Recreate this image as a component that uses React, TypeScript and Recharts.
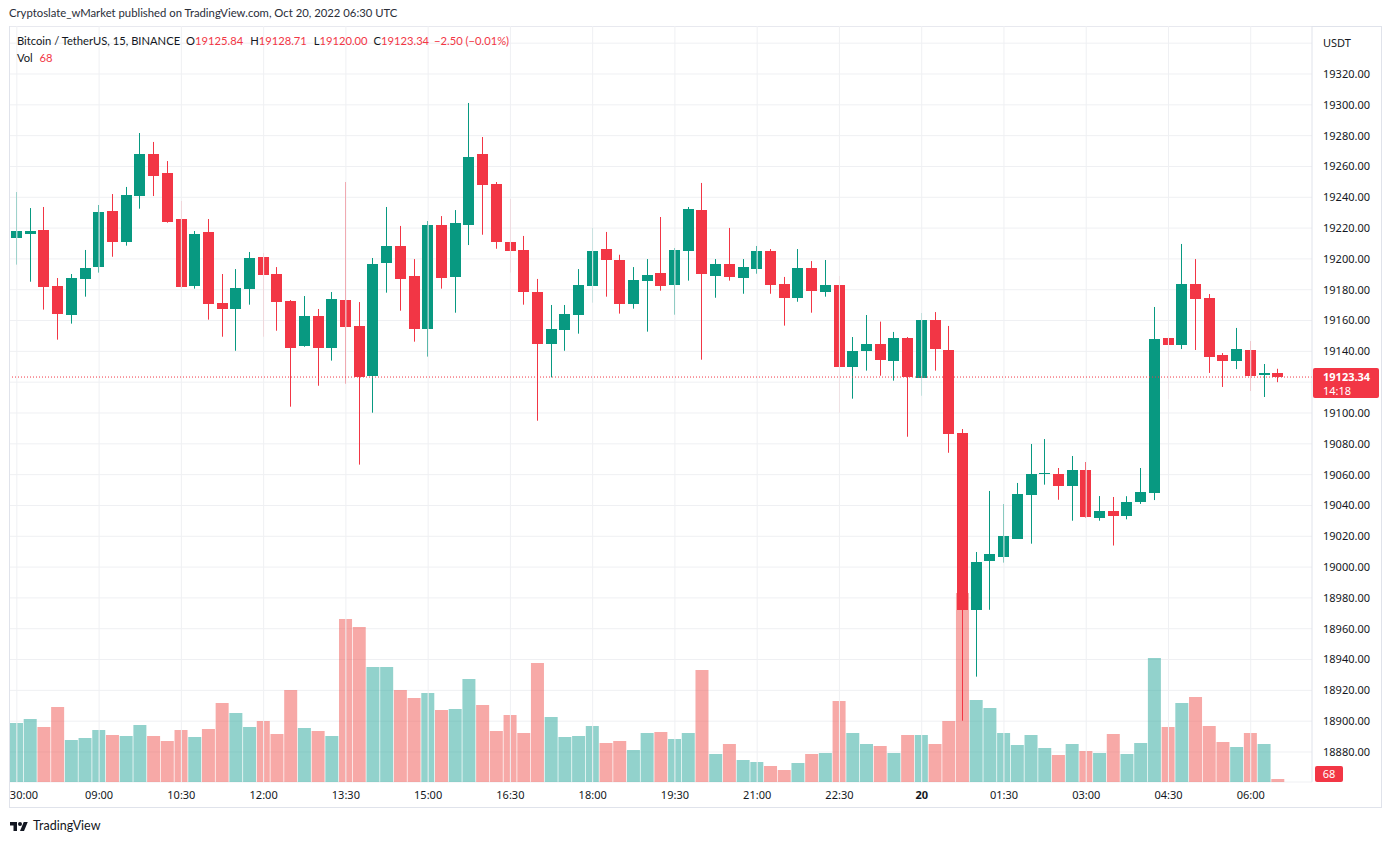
import { Bar, Cell, ComposedChart, CartesianGrid, ReferenceLine, XAxis, YAxis } from "recharts";

const GREEN = "#089981";
const RED = "#F23645";
const TEXT = "#131722";
const GRID = "#eff0f3";
const FONT = "'Noto Sans', 'Open Sans', sans-serif";
const HEAD_FONT = "Lato, 'Noto Sans', sans-serif";

// 15m candles, 07:30 Oct 19 -> 06:30 Oct 20 (UTC)
const times = [
  "07:30", "07:45",
  "08:00", "08:15", "08:30", "08:45", "09:00", "09:15", "09:30", "09:45",
  "10:00", "10:15", "10:30", "10:45", "11:00", "11:15", "11:30", "11:45",
  "12:00", "12:15", "12:30", "12:45", "13:00", "13:15", "13:30", "13:45",
  "14:00", "14:15", "14:30", "14:45", "15:00", "15:15", "15:30", "15:45",
  "16:00", "16:15", "16:30", "16:45", "17:00", "17:15", "17:30", "17:45",
  "18:00", "18:15", "18:30", "18:45", "19:00", "19:15", "19:30", "19:45",
  "20:00", "20:15", "20:30", "20:45", "21:00", "21:15", "21:30", "21:45",
  "22:00", "22:15", "22:30", "22:45", "23:00", "23:15", "23:30", "23:45",
  "00:00", "00:15", "00:30", "00:45", "01:00", "01:15", "01:30", "01:45",
  "02:00", "02:15", "02:30", "02:45", "03:00", "03:15", "03:30", "03:45",
  "04:00", "04:15", "04:30", "04:45", "05:00", "05:15", "05:30", "05:45",
  "06:00", "06:15", "06:30",
];

const opens = [
  19213.8, 19216.4, 19218.8, 19182.4, 19163.8, 19187.2, 19195.0, 19231.1, 19211.2, 19241.0,
  19268.1, 19255.8, 19225.9, 19182.6, 19217.5, 19171.4, 19167.7, 19180.7, 19201.3, 19190.2,
  19172.7, 19143.7, 19162.9, 19142.4, 19173.3, 19156.5, 19124.2, 19197.6, 19208.4, 19188.9,
  19154.7, 19222.0, 19188.5, 19222.2, 19268.1, 19248.6, 19210.9, 19205.8, 19178.5, 19145.0,
  19154.1, 19163.8, 19182.6, 19206.4, 19199.3, 19171.0, 19185.9, 19190.9, 19183.3, 19205.3,
  19231.7, 19189.1, 19196.7, 19187.8, 19193.7, 19205.1, 19183.7, 19174.8, 19194.1, 19178.7,
  19183.1, 19130.1, 19140.4, 19144.8, 19134.0, 19148.7, 19122.9, 19160.3, 19140.9, 19087.0,
  18972.3, 19003.9, 19006.8, 19018.4, 19047.0, 19060.4, 19060.4, 19052.8, 19063.0, 19032.1,
  19036.4, 19033.0, 19042.0, 19048.0, 19148.7, 19144.1, 19183.7, 19174.6, 19137.6, 19133.7,
  19140.9, 19124.7, 19125.84,
];

const highs = [
  19243.4, 19233.0, 19233.7, 19187.6, 19190.2, 19205.8, 19235.0, 19242.1, 19246.7, 19281.7,
  19275.9, 19263.5, 19237.6, 19218.1, 19225.9, 19190.2, 19193.4, 19204.5, 19203.8, 19194.7,
  19173.3, 19175.9, 19167.5, 19178.5, 19249.9, 19172.0, 19200.6, 19233.7, 19221.4, 19199.9,
  19224.6, 19227.8, 19231.7, 19301.2, 19279.1, 19249.9, 19238.9, 19214.9, 19187.0, 19170.1,
  19170.1, 19193.4, 19220.1, 19217.5, 19202.7, 19194.7, 19199.9, 19227.2, 19207.1, 19233.7,
  19249.3, 19199.9, 19220.1, 19199.9, 19208.4, 19206.4, 19188.3, 19206.4, 19198.6, 19199.3,
  19188.9, 19149.3, 19163.6, 19159.3, 19152.6, 19149.3, 19164.9, 19165.5, 19156.5, 19089.6,
  19009.8, 19049.4, 19040.9, 19054.6, 19079.9, 19083.1, 19064.3, 19072.1, 19068.2, 19046.1,
  19045.5, 19046.0, 19064.3, 19168.8, 19149.3, 19209.7, 19199.9, 19177.2, 19138.9, 19155.2,
  19146.7, 19131.8, 19128.71,
];

const lows = [
  19196.3, 19185.2, 19167.1, 19147.6, 19158.0, 19175.5, 19191.1, 19201.4, 19208.6, 19232.6,
  19240.8, 19223.5, 19180.7, 19180.7, 19160.6, 19149.5, 19140.4, 19170.3, 19149.5, 19153.4,
  19104.1, 19143.0, 19117.7, 19134.0, 19119.0, 19066.5, 19100.2, 19178.1, 19166.4, 19146.3,
  19136.6, 19180.7, 19165.1, 19209.0, 19215.7, 19206.6, 19191.1, 19170.3, 19095.0, 19123.1,
  19140.4, 19151.5, 19171.6, 19175.5, 19164.5, 19167.7, 19152.8, 19179.4, 19163.8, 19185.9,
  19134.6, 19174.8, 19185.9, 19177.4, 19190.4, 19177.4, 19156.7, 19172.2, 19165.1, 19175.5,
  19100.2, 19109.3, 19127.5, 19124.2, 19121.0, 19084.6, 19111.2, 19127.5, 19074.2, 18900.3,
  18928.9, 18972.3, 19002.9, 19018.4, 19015.2, 19053.5, 19043.7, 19030.1, 19032.1, 19030.1,
  19014.0, 19031.0, 19041.0, 19043.5, 19109.1, 19141.5, 19140.9, 19126.0, 19116.9, 19128.5,
  19114.3, 19110.4, 19120.0,
];

const closes = [
  19218.1, 19218.1, 19182.0, 19164.5, 19187.6, 19194.1, 19230.4, 19211.2, 19241.5, 19268.1,
  19254.0, 19224.2, 19182.0, 19216.2, 19171.0, 19167.7, 19181.1, 19200.6, 19189.8, 19172.3,
  19142.4, 19162.9, 19142.4, 19174.0, 19156.0, 19123.6, 19196.7, 19208.4, 19187.2, 19154.7,
  19222.0, 19187.8, 19223.3, 19266.1, 19248.2, 19211.2, 19205.3, 19178.7, 19145.0, 19154.5,
  19164.2, 19183.1, 19205.1, 19199.5, 19171.0, 19186.3, 19189.6, 19182.6, 19205.8, 19232.4,
  19190.4, 19196.7, 19188.5, 19194.7, 19205.1, 19183.3, 19174.8, 19194.1, 19179.4, 19183.1,
  19130.1, 19140.2, 19144.8, 19134.6, 19148.7, 19123.6, 19160.3, 19141.7, 19086.6, 18972.3,
  19003.3, 19008.5, 19020.2, 19047.4, 19060.4, 19060.8, 19052.8, 19063.0, 19032.7, 19036.4,
  19033.0, 19042.0, 19048.7, 19148.0, 19144.1, 19183.7, 19174.0, 19136.3, 19133.7, 19141.5,
  19124.0, 19126.0, 19123.34,
];

const volumes = [
  1339, 1430, 1249, 1703, 953, 999, 1180, 1067, 1044, 1294,
  1044, 931, 1180, 1022, 1203, 1793, 1566, 1249, 1385, 1090,
  2088, 1226, 1158, 1044, 3700, 3519, 2611, 2611, 2088, 1907,
  2020, 1634, 1657, 2338, 1748, 1158, 1521, 1112, 2701, 1476,
  1022, 1044, 1271, 885, 931, 726, 1112, 1135, 976, 1112,
  2542, 636, 863, 499, 454, 363, 272, 431, 636, 658,
  1839, 1112, 863, 817, 658, 1067, 1067, 863, 1385, 4290,
  1861, 1680, 1112, 840, 1067, 772, 613, 863, 704, 658,
  1090, 636, 885, 2815, 1249, 1793, 1930, 1271, 908, 795,
  1112, 863, 68,
];

const priceTicks = [
  18880, 18900, 18920, 18940, 18960, 18980, 19000, 19020, 19040, 19060, 19080, 19100,
  19120, 19140, 19160, 19180, 19200, 19220, 19240, 19260, 19280, 19300, 19320, 19340,
];
const timeTicks = ["07:30", "09:00", "10:30", "12:00", "13:30", "15:00", "16:30", "18:00", "19:30", "21:00", "22:30", "00:00", "01:30", "03:00", "04:30", "06:00"];
const timeTickLabels = ["30:00", "09:00", "10:30", "12:00", "13:30", "15:00", "16:30", "18:00", "19:30", "21:00", "22:30", "20", "01:30", "03:00", "04:30", "06:00"];
const countdown = "14:18";

const data = times.map((t, i) => ({
  t,
  o: opens[i],
  h: highs[i],
  l: lows[i],
  c: closes[i],
  range: [lows[i], highs[i]],
  v: volumes[i],
}));

const last = data[data.length - 1];

function Candle(props: any) {
  const { x, y, width, height, payload } = props;
  if (x == null || y == null) return null;
  const { o, h, l, c } = payload;
  const color = c >= o ? GREEN : RED;
  const top = Math.min(y, y + height);
  const span = Math.abs(height);
  const k = h === l ? 0 : span / (h - l);
  const bTop = top + (h - Math.max(o, c)) * k;
  const bBot = top + (h - Math.min(o, c)) * k;
  const cx = Math.floor(x + width / 2);
  return (
    <g>
      <rect x={cx} y={top} width={1} height={Math.max(span, 1)} fill={color} />
      <rect x={Math.round(x)} y={Math.round(bTop)} width={Math.round(width)} height={Math.max(1, Math.round(bBot - bTop))} fill={color} />
    </g>
  );
}

function TimeTick(props: any) {
  const { x, y, payload } = props;
  const idx = timeTicks.indexOf(payload.value);
  const first = idx === 0;
  return (
    <text x={first ? x - 7 : x} y={y + 13} dy="0.355em" textAnchor={first ? "start" : "middle"} fill={TEXT} fontSize={11} fontWeight={payload.value === "00:00" ? 700 : 400} fontFamily={FONT}>
      {timeTickLabels[idx]}
    </text>
  );
}

function PriceTick(props: any) {
  const { x, y, payload } = props;
  const v = payload.value as number;
  // the last-price tag covers the label nearest to it
  if (Math.abs(v - last.c) < 10) return null;
  return (
    <text x={x + 11} y={y} dy="0.355em" fill={TEXT} fontSize={11} fontFamily={FONT}>
      {v === 19340 ? "USDT" : v.toFixed(2)}
    </text>
  );
}

function PriceTag(props: any) {
  const vb = props.viewBox;
  const x = vb.x + vb.width;
  const y = vb.y;
  return (
    <g fontFamily={FONT}>
      <rect x={x + 1} y={y - 9} width={66} height={30} rx={2} fill={RED} />
      <text x={x + 11} y={y + 4} fill="#fff" fontSize={11} fontWeight={700}>{last.c.toFixed(2)}</text>
      <text x={x + 11} y={y + 18} fill="#fff" fontSize={11}>{countdown}</text>
    </g>
  );
}

function VolTag(props: any) {
  const vb = props.viewBox;
  const x = vb.x + vb.width;
  const y = vb.y;
  return (
    <g fontFamily={FONT}>
      <rect x={x + 3} y={y - 13} width={28} height={16} rx={2} fill={RED} />
      <text x={x + 17} y={y - 5} dy="0.355em" textAnchor="middle" fill="#fff" fontSize={11}>{last.v}</text>
    </g>
  );
}

function Logo() {
  return (
    <svg width={18} height={14} viewBox="0 0 36 28" style={{ position: "absolute", left: 10, top: 820 }}>
      <path d="M14 22H7V11H0V4h14v18z" fill="#131722" />
      <circle cx={20} cy={8} r={4} fill="#131722" />
      <path d="M28 22h-8l7.5-18h8L28 22z" fill="#131722" />
    </svg>
  );
}

const red = { color: RED };

export default function App() {
  return (
    <div style={{ position: "absolute", left: 0, top: 0, width: 1393, height: 845, background: "#fff", fontFamily: FONT, color: TEXT, overflow: "hidden" }}>
      <div style={{ position: "absolute", left: 9, top: 6, fontSize: 11.3, fontFamily: HEAD_FONT, color: "#2a2e39", whiteSpace: "nowrap" }}>
        Cryptoslate_wMarket published on TradingView.com, Oct 20, 2022 06:30 UTC
      </div>
      <div style={{ position: "absolute", left: 9, top: 26, width: 1373, height: 782, border: "1px solid #e0e3eb", boxSizing: "border-box" }} />
      <div style={{ position: "absolute", left: 10, top: 26 }}>
        <ComposedChart width={1373} height={783} data={data} margin={{ top: 0, right: 0, bottom: 0, left: 0 }}>
          <CartesianGrid vertical={false} stroke={GRID} />
          <XAxis dataKey="t" ticks={timeTicks} interval={0} padding={{ left: 0, right: 27 }} height={27} tickSize={0} tickMargin={0} axisLine={false} tickLine={false} tick={<TimeTick />} />
          <XAxis xAxisId="vol" dataKey="t" hide padding={{ left: 0, right: 27 }} />
          <YAxis orientation="right" width={71} domain={[18860.53, 19351.15]} allowDataOverflow ticks={priceTicks} interval={0} tickSize={0} tickMargin={0} axisLine={{ stroke: "#e0e3eb" }} tickLine={false} tick={<PriceTick />} />
          <YAxis yAxisId="vol" hide domain={[0, 17160]} allowDataOverflow />
          {timeTicks.map((t) => (
            <ReferenceLine key={t} x={t} stroke={GRID} />
          ))}
          <Bar xAxisId="vol" yAxisId="vol" dataKey="v" barSize={13} isAnimationActive={false}>
            {data.map((d, i) => (
              <Cell key={i} fill={d.c >= d.o ? "#26a69a" : "#ef5350"} fillOpacity={0.5} />
            ))}
          </Bar>
          <Bar dataKey="range" barSize={11} shape={<Candle />} isAnimationActive={false} />
          <ReferenceLine y={last.c} stroke={RED} strokeDasharray="1 2" label={<PriceTag />} />
          <ReferenceLine yAxisId="vol" xAxisId="vol" y={last.v} stroke="none" label={<VolTag />} />
        </ComposedChart>
      </div>
      <div style={{ position: "absolute", left: 17, top: 33, fontSize: 11.2, fontFamily: HEAD_FONT, whiteSpace: "nowrap", lineHeight: "16px" }}>
        <span>Bitcoin / TetherUS, 15, BINANCE</span>
        <span style={{ marginLeft: 6 }}>O<span style={red}>{last.o.toFixed(2)}</span></span>
        <span style={{ marginLeft: 7 }}>H<span style={red}>{last.h.toFixed(2)}</span></span>
        <span style={{ marginLeft: 7 }}>L<span style={red}>{last.l.toFixed(2)}</span></span>
        <span style={{ marginLeft: 6 }}>C<span style={red}>{last.c.toFixed(2)}</span></span>
        <span style={{ marginLeft: 5, ...red }}>−2.50 (−0.01%)</span>
      </div>
      <div style={{ position: "absolute", left: 17, top: 50, fontSize: 11.2, fontFamily: HEAD_FONT, whiteSpace: "nowrap", lineHeight: "16px" }}>
        Vol <span style={{ marginLeft: 4, ...red }}>{last.v}</span>
      </div>
      <Logo />
      <div style={{ position: "absolute", left: 33, top: 818, fontSize: 12.5, fontFamily: HEAD_FONT, color: TEXT, whiteSpace: "nowrap" }}>TradingView</div>
    </div>
  );
}
